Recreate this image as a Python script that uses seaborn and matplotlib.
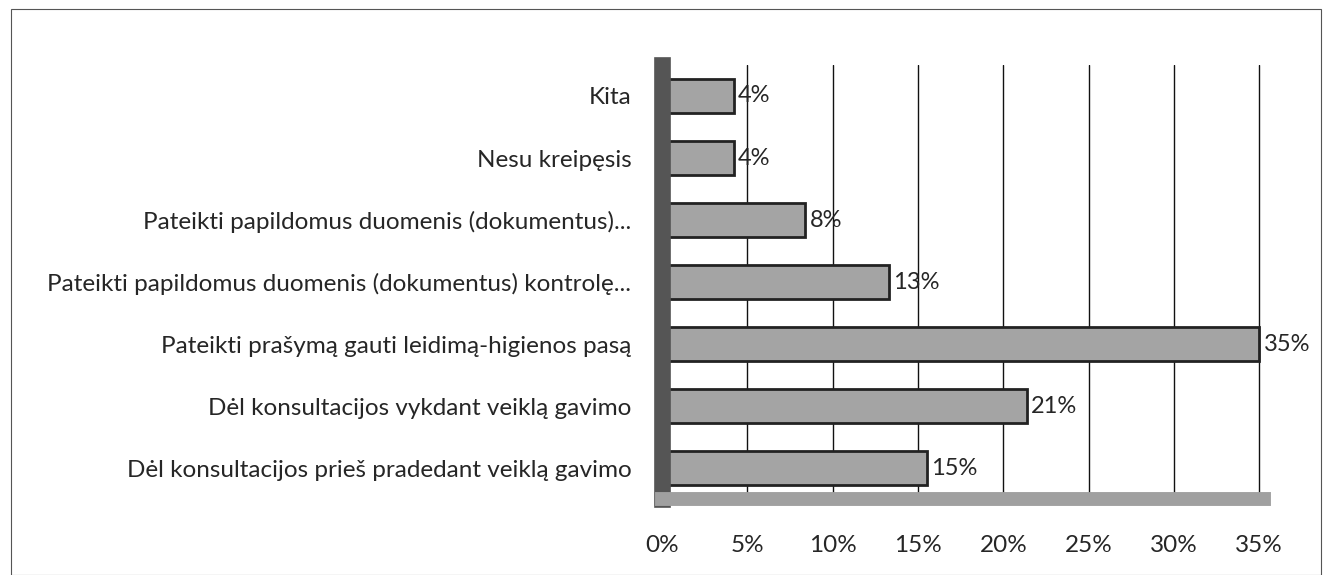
import matplotlib
matplotlib.use("Agg")
import matplotlib.pyplot as plt
import seaborn as sns
import pandas as pd
from matplotlib.patches import Rectangle

categories = [
    "Kita",
    "Nesu kreipęsis",
    "Pateikti papildomus duomenis (dokumentus)...",
    "Pateikti papildomus duomenis (dokumentus) kontrolę...",
    "Pateikti prašymą gauti leidimą-higienos pasą",
    "Dėl konsultacijos vykdant veiklą gavimo",
    "Dėl konsultacijos prieš pradedant veiklą gavimo",
]
values = [4.2, 4.2, 8.4, 13.3, 35.0, 21.4, 15.5]
value_labels = ["4%", "4%", "8%", "13%", "35%", "21%", "15%"]
xticks = [0, 5, 10, 15, 20, 25, 30, 35]
xtick_labels = ["0%", "5%", "10%", "15%", "20%", "25%", "30%", "35%"]

df = pd.DataFrame({"category": categories, "value": values})

sns.set_style("white")
plt.rcParams["font.family"] = ["Lato", "DejaVu Sans"]

fig = plt.figure(figsize=(13.24, 5.75), dpi=100)
ax = fig.add_axes([0.5, 0.132, 0.455, 0.755])

sns.barplot(data=df, y="category", x="value", orient="h", order=categories,
            color="#a4a4a4", width=0.55, edgecolor="#222222", linewidth=2.0,
            saturation=1, ax=ax)

ax.set_xlim(0, 35.3)
ax.set_ylim(6.5, -0.5)
ax.set_xticks(xticks)
ax.set_xticklabels(xtick_labels, fontsize=17.5)
ax.tick_params(axis="y", labelsize=17.5, pad=22, length=0)
ax.tick_params(axis="x", pad=26, length=0)
ax.set_xlabel("")
ax.set_ylabel("")
ax.xaxis.grid(True, color="#111111", linewidth=1.0)
ax.set_axisbelow(True)

for s in ["top", "right"]:
    ax.spines[s].set_visible(False)
ax.spines["left"].set_color("#555555")
ax.spines["left"].set_linewidth(12)
ax.spines["bottom"].set_color("#a0a0a0")
ax.spines["bottom"].set_linewidth(10)

for p, lab in zip(ax.patches, value_labels):
    ax.annotate(lab, (p.get_width(), p.get_y() + p.get_height() / 2),
                xytext=(3, 0), textcoords="offset points",
                va="center", ha="left", fontsize=17)

fig.patches.append(Rectangle((0.008, 0.0), 0.99, 0.985, transform=fig.transFigure,
                             fill=False, edgecolor="#555555", linewidth=0.8))

fig.savefig("out.png", dpi=100, facecolor="white")
